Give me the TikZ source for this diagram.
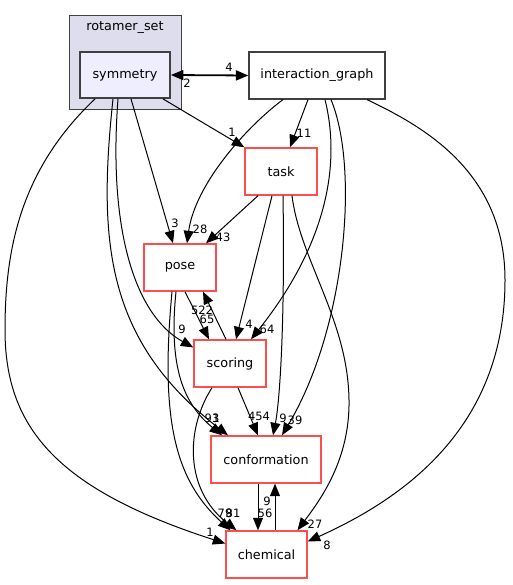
\documentclass[tikz,border=0pt]{standalone}
\usepackage{fontspec}
\setmainfont{DejaVu Sans}
\usetikzlibrary{arrows.meta,positioning}
\definecolor{dirred}{RGB}{255,77,77}
\definecolor{dirgray}{RGB}{64,64,64}
\definecolor{clusterfill}{RGB}{221,221,238}
\definecolor{symfill}{RGB}{238,238,255}
\tikzset{
  dirbox/.style={draw=dirred, line width=1.4pt, fill=white, minimum height=47pt,
    inner sep=0pt, font=\fontsize{12.8}{15}\selectfont},
  dep/.style={line width=1pt, -{Triangle[length=12.5pt,width=10pt]}},
  lbl/.style={inner sep=0pt, font=\fontsize{11.5}{13}\selectfont}
}

\begin{document}
\begin{tikzpicture}[x=1pt,y=-1pt]
    \useasboundingbox (0,0) rectangle (512,585);
    % cluster and directories
    \node[draw=dirgray, fill=clusterfill, line width=1pt, minimum width=112pt, minimum height=94pt] (rotset) at (125,63) {};
    \node[inner sep=0pt, font=\fontsize{12.8}{15}\selectfont] (rotsetlbl) at (125,28) {rotamer\_set};
    \node[dirbox, draw=dirgray, fill=symfill, line width=1.8pt, minimum width=90pt, minimum height=46pt] (sym) at (125,75) {symmetry};
    \node[dirbox, draw=dirgray, line width=1.2pt, minimum width=136pt] (ig) at (317,75.5) {interaction\_graph};
    \node[dirbox, minimum width=72pt] (task) at (281,171.5) {task};
    \node[dirbox, minimum width=72pt] (pose) at (180,267.5) {pose};
    \node[dirbox, minimum width=72pt] (scoring) at (230,363.5) {scoring};
    \node[dirbox, minimum width=110pt] (conf) at (266,459.5) {conformation};
    \node[dirbox, minimum width=81pt] (chem) at (266.5,554.5) {chemical};

    % dependencies
    \draw[line width=1.8pt, {Triangle[length=12.5pt,width=10pt]}-{Triangle[length=12.5pt,width=10pt]}] (sym.east) -- (ig.west);
    \draw[dep] ([xshift=38pt]sym.south) -- (task.north west);
    \draw[dep] ([xshift=-9pt]ig.south) -- ([xshift=9pt]task.north);
    \draw[dep] ([xshift=6pt]sym.south) -- ([xshift=-7pt]pose.north);
    \draw[dep] ([xshift=-34pt]ig.south) .. controls (245,128) and (195,185) .. ([xshift=7pt]pose.north);
    \draw[dep] ([xshift=-23pt]task.south) -- ([xshift=26pt]pose.north);
    \draw[dep] ([xshift=5pt]pose.south) -- ([xshift=-21pt]scoring.north);
    \draw[dep] ([xshift=-4pt]scoring.north) -- ([xshift=23pt]pose.south);
    \draw[dep] ([xshift=-7pt]sym.south) .. controls (108,230) and (135,315) .. ([yshift=16pt]scoring.west);
    \draw[dep] ([xshift=-9pt]task.south) -- ([xshift=6pt]scoring.north);
    \draw[dep] ([xshift=8pt]ig.south) .. controls (340,160) and (330,240) .. ([xshift=21pt]scoring.north);
    \draw[dep] ([xshift=14pt]ig.south) .. controls (360,170) and (345,330) .. ([xshift=16pt]conf.north);
    \draw[dep] ([xshift=2pt]task.south) .. controls (285,320) and (280,400) .. ([xshift=7pt]conf.north);
    \draw[dep] ([xshift=8pt]scoring.south) -- ([xshift=-8pt]conf.north);
    \draw[dep] ([xshift=-12pt]sym.south) .. controls (98,240) and (105,340) .. ([xshift=-38pt]conf.north);
    \draw[dep] ([xshift=-4pt]pose.south) .. controls (168,370) and (185,405) .. ([xshift=-44pt]conf.north);
    \draw[dep] ([xshift=-8pt]pose.south) .. controls (160,420) and (175,480) .. ([xshift=-36pt]chem.north);
    \draw[dep] ([xshift=-18pt]scoring.south) .. controls (185,430) and (185,490) .. ([xshift=-30pt]chem.north);
    \draw[dep] ([xshift=-8pt]conf.south) -- ([xshift=-8.5pt]chem.north);
    \draw[dep] ([xshift=8.5pt]chem.north) -- ([xshift=9pt]conf.south);
    \draw[dep] ([xshift=-30pt]sym.south) .. controls (20,170) and (5,250) .. (5,330)
        .. controls (5,430) and (60,490) .. ([yshift=11pt]chem.west);
    \draw[dep] ([xshift=11pt]task.south) .. controls (300,260) and (348,320) .. (349,400)
        .. controls (350,460) and (320,500) .. ([xshift=31pt]chem.north);
    \draw[dep] ([xshift=50pt]ig.south) .. controls (420,125) and (505,170) .. (505,280)
        .. controls (505,430) and (400,500) .. ([yshift=13pt]chem.east);

    % edge labels
    \node[lbl] (l-ig-sym) at (229,67) {4};
    \node[lbl] (l-sym-ig) at (187,83) {2};
    \node[lbl] (l-sym-task) at (232,132) {1};
    \node[lbl] (l-ig-task) at (304,133) {11};
    \node[lbl] (l-sym-pose) at (175,223) {3};
    \node[lbl] (l-ig-pose) at (200,229) {28};
    \node[lbl] (l-task-pose) at (223,237) {43};
    \node[lbl] (l-sc-pose) at (202,310) {522};
    \node[lbl] (l-pose-sc) at (207,319) {65};
    \node[lbl] (l-sym-sc) at (182,329) {9};
    \node[lbl] (l-task-sc) at (249,324) {4};
    \node[lbl] (l-ig-sc) at (267,329) {64};
    \node[lbl] (l-pose-conf) at (212,418) {93};
    \node[lbl] (l-sym-conf) at (216,418) {1};
    \node[lbl] (l-sc-conf) at (259,416) {454};
    \node[lbl] (l-task-conf) at (283,418) {9};
    \node[lbl] (l-ig-conf) at (295,420) {39};
    \node[lbl] (l-pose-chem) at (225,513) {79};
    \node[lbl] (l-sc-chem) at (233,513) {81};
    \node[lbl] (l-conf-chem) at (265,513) {56};
    \node[lbl] (l-chem-conf) at (267,501) {9};
    \node[lbl] (l-sym-chem) at (210,532) {1};
    \node[lbl] (l-task-chem) at (315,524) {27};
    \node[lbl] (l-ig-chem) at (327,545) {8};
\end{tikzpicture}
\end{document}
